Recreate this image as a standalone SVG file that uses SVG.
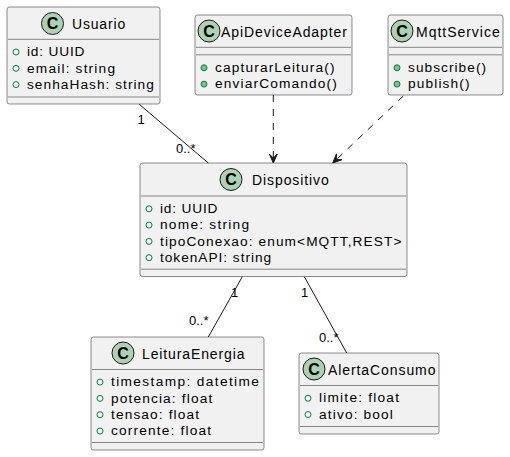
<svg xmlns="http://www.w3.org/2000/svg" width="510" height="457" viewBox="0 0 510 457">
<style>
  .box { fill: #F1F1F1; stroke: #181818; stroke-width: 0.5; }
  .sep { stroke: #181818; stroke-width: 0.5; }
  .icon { fill: #ADD1B2; stroke: #181818; stroke-width: 1; }
  .iconC { font-family: "Liberation Sans", Arial, sans-serif; font-weight: bold; font-size: 16px; fill: #000; text-anchor: middle; }
  .title { font-family: "Liberation Sans", Arial, sans-serif; font-size: 14px; fill: #000; }
  .attr { font-family: "Liberation Sans", Arial, sans-serif; font-size: 13.7px; fill: #000; }
  .field { fill: none; stroke: #038048; stroke-width: 1; }
  .method { fill: #84BE84; stroke: #038048; stroke-width: 1; }
  .edge { fill: none; stroke: #181818; stroke-width: 1; }
  .dash { stroke-dasharray: 7,7; }
  .head { fill: #181818; stroke: #181818; stroke-width: 1; }
  .lbl { font-family: "Liberation Sans", Arial, sans-serif; font-size: 13px; fill: #000; }
</style>

<g id="Usuario">
  <rect class="box" x="7" y="7" width="153" height="97" rx="2.5"/>
  <circle class="icon" cx="52.5" cy="23.5" r="11"/>
  <text class="iconC" x="52.5" y="29.3">C</text>
  <text class="title" x="72" y="28.5" textLength="53.2" lengthAdjust="spacing">Usuario</text>
  <line class="sep" x1="8" y1="39.3" x2="159" y2="39.3"/>
  <circle class="field" cx="16" cy="52" r="3"/>
  <text class="attr" x="27" y="56.2" textLength="57.4" lengthAdjust="spacing">id: UUID</text>
  <circle class="field" cx="16" cy="68.3" r="3"/>
  <text class="attr" x="27" y="72.5" textLength="88" lengthAdjust="spacing">email: string</text>
  <circle class="field" cx="16" cy="84.6" r="3"/>
  <text class="attr" x="27" y="88.8" textLength="126.9" lengthAdjust="spacing">senhaHash: string</text>
  <line class="sep" x1="8" y1="97" x2="159" y2="97"/>
</g>

<g id="ApiDeviceAdapter">
  <rect class="box" x="195" y="15" width="157" height="80" rx="2.5"/>
  <circle class="icon" cx="209" cy="31" r="11"/>
  <text class="iconC" x="209" y="36.8">C</text>
  <text class="title" x="221" y="36.5" textLength="126" lengthAdjust="spacing">ApiDeviceAdapter</text>
  <line class="sep" x1="196" y1="47.3" x2="351" y2="47.3"/>
  <line class="sep" x1="196" y1="54.8" x2="351" y2="54.8"/>
  <circle class="method" cx="204" cy="67.8" r="3"/>
  <text class="attr" x="215" y="72" textLength="119.5" lengthAdjust="spacing">capturarLeitura()</text>
  <circle class="method" cx="204" cy="84.1" r="3"/>
  <text class="attr" x="215" y="88.3" textLength="121.8" lengthAdjust="spacing">enviarComando()</text>
</g>

<g id="MqttService">
  <rect class="box" x="388" y="15" width="115" height="80" rx="2.5"/>
  <circle class="icon" cx="402" cy="31" r="11"/>
  <text class="iconC" x="402" y="36.8">C</text>
  <text class="title" x="416" y="36.5" textLength="83.7" lengthAdjust="spacing">MqttService</text>
  <line class="sep" x1="389" y1="47.3" x2="502" y2="47.3"/>
  <line class="sep" x1="389" y1="54.8" x2="502" y2="54.8"/>
  <circle class="method" cx="397" cy="67.8" r="3"/>
  <text class="attr" x="408" y="72" textLength="78.1" lengthAdjust="spacing">subscribe()</text>
  <circle class="method" cx="397" cy="84.1" r="3"/>
  <text class="attr" x="408" y="88.3" textLength="61.5" lengthAdjust="spacing">publish()</text>
</g>

<g id="Dispositivo">
  <rect class="box" x="140" y="163" width="267" height="113.5" rx="2.5"/>
  <circle class="icon" cx="231" cy="179.5" r="11"/>
  <text class="iconC" x="231" y="185.3">C</text>
  <text class="title" x="252" y="185" textLength="76.8" lengthAdjust="spacing">Dispositivo</text>
  <line class="sep" x1="141" y1="196" x2="406" y2="196"/>
  <circle class="field" cx="149" cy="208.8" r="3"/>
  <text class="attr" x="160" y="213" textLength="57.4" lengthAdjust="spacing">id: UUID</text>
  <circle class="field" cx="149" cy="225.1" r="3"/>
  <text class="attr" x="160" y="229.3" textLength="89.1" lengthAdjust="spacing">nome: string</text>
  <circle class="field" cx="149" cy="241.4" r="3"/>
  <text class="attr" x="160" y="245.6" textLength="241.4" lengthAdjust="spacing">tipoConexao: enum&lt;MQTT,REST&gt;</text>
  <circle class="field" cx="149" cy="257.7" r="3"/>
  <text class="attr" x="160" y="261.9" textLength="111.2" lengthAdjust="spacing">tokenAPI: string</text>
  <line class="sep" x1="141" y1="269.2" x2="406" y2="269.2"/>
</g>

<g id="LeituraEnergia">
  <rect class="box" x="91" y="337" width="173" height="113" rx="2.5"/>
  <circle class="icon" cx="123" cy="353" r="11"/>
  <text class="iconC" x="123" y="358.8">C</text>
  <text class="title" x="142" y="358.5" textLength="102.5" lengthAdjust="spacing">LeituraEnergia</text>
  <line class="sep" x1="92" y1="369.5" x2="263" y2="369.5"/>
  <circle class="field" cx="100" cy="382.1" r="3"/>
  <text class="attr" x="111" y="386.3" textLength="147.9" lengthAdjust="spacing">timestamp: datetime</text>
  <circle class="field" cx="100" cy="398.4" r="3"/>
  <text class="attr" x="111" y="402.6" textLength="101.2" lengthAdjust="spacing">potencia: float</text>
  <circle class="field" cx="100" cy="414.7" r="3"/>
  <text class="attr" x="111" y="418.9" textLength="88" lengthAdjust="spacing">tensao: float</text>
  <circle class="field" cx="100" cy="431" r="3"/>
  <text class="attr" x="111" y="435.2" textLength="100" lengthAdjust="spacing">corrente: float</text>
  <line class="sep" x1="92" y1="442.5" x2="263" y2="442.5"/>
</g>

<g id="AlertaConsumo">
  <rect class="box" x="299" y="353" width="140" height="81" rx="2.5"/>
  <circle class="icon" cx="314" cy="369" r="11"/>
  <text class="iconC" x="314" y="374.8">C</text>
  <text class="title" x="328" y="374.5" textLength="107.5" lengthAdjust="spacing">AlertaConsumo</text>
  <line class="sep" x1="300" y1="385.5" x2="438" y2="385.5"/>
  <circle class="field" cx="308" cy="398.2" r="3"/>
  <text class="attr" x="319" y="402.4" textLength="80" lengthAdjust="spacing">limite: float</text>
  <circle class="field" cx="308" cy="414.5" r="3"/>
  <text class="attr" x="319" y="418.7" textLength="73.9" lengthAdjust="spacing">ativo: bool</text>
  <line class="sep" x1="300" y1="426.5" x2="438" y2="426.5"/>
</g>

<g id="connectors">
  <line class="edge" x1="139.3" y1="104.3" x2="208.3" y2="163"/>
  <text class="lbl" x="137.5" y="124.3">1</text>
  <text class="lbl" x="176" y="153">0..*</text>

  <line class="edge dash" x1="273.3" y1="95" x2="273.3" y2="161"/>
  <polygon class="head" points="273.3,163 269.3,154 273.3,158 277.3,154"/>

  <line class="edge dash" x1="403.3" y1="96" x2="334" y2="161.8"/>
  <polygon class="head" points="332.7,163 341.98,159.7 336.3,159.6 336.48,153.9"/>

  <line class="edge" x1="242.3" y1="276.7" x2="208.3" y2="337"/>
  <text class="lbl" x="231" y="296.7">1</text>
  <text class="lbl" x="189" y="325">0..*</text>

  <line class="edge" x1="304.3" y1="276.7" x2="346.7" y2="353"/>
  <text class="lbl" x="301" y="297.3">1</text>
  <text class="lbl" x="319" y="341.7">0..*</text>
</g>
</svg>
